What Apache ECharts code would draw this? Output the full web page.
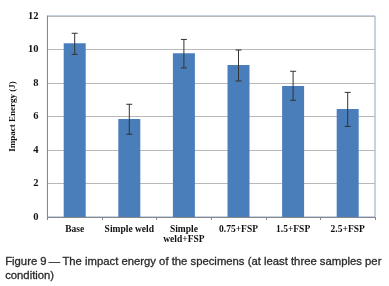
<!DOCTYPE html>
<html>
<head>
<meta charset="utf-8">
<script src="https://cdn.jsdelivr.net/npm/echarts@6/dist/echarts.min.js"></script>
<style>
  html, body { margin: 0; padding: 0; background: #fff; }
  #chart { width: 389px; height: 286px; }
</style>
</head>
<body>
<div id="chart"></div>
<script>
var categories = ['Base', 'Simple weld', 'Simple\nweld+FSP', '0.75+FSP', '1.5+FSP', '2.5+FSP'];
var energy = [10.37, 5.85, 9.77, 9.07, 7.82, 6.45];
var errLow = [9.71, 4.94, 8.9, 8.12, 6.97, 5.41];
var errHigh = [10.97, 6.73, 10.6, 9.97, 8.7, 7.44];

var errData = categories.map(function (c, i) { return [i, errLow[i], errHigh[i]]; });

var myChart = echarts.init(document.getElementById('chart'));

var serif = '"Liberation Serif", "DejaVu Serif", serif';

var option = {
  animation: false,
  grid: {
    left: 39, top: 16, right: 14, bottom: 69,
    show: true, borderColor: '#8ea6c6', borderWidth: 1
  },
  xAxis: {
    type: 'category',
    data: categories,
    axisLine: { lineStyle: { color: '#888' } },
    axisTick: { show: true, length: 3, lineStyle: { color: '#888' } },
    axisLabel: {
      fontFamily: serif, fontWeight: 'bold', fontSize: 9.5, color: '#111',
      margin: 8, lineHeight: 10, interval: 0
    }
  },
  yAxis: {
    type: 'value',
    min: 0, max: 12, interval: 2,
    name: 'Impact Energy (J)',
    nameLocation: 'middle',
    nameGap: 28,
    nameTextStyle: { fontFamily: serif, fontWeight: 'bold', fontSize: 9, color: '#111' },
    axisLine: { show: true, lineStyle: { color: '#888' } },
    axisTick: { show: false },
    splitLine: { lineStyle: { color: '#b8b8b8', width: 1 } },
    axisLabel: { fontFamily: serif, fontWeight: 'bold', fontSize: 10.5, color: '#111', margin: 9 }
  },
  series: [
    {
      type: 'bar',
      data: energy,
      barWidth: 22,
      itemStyle: { color: '#4a7ebb' }
    },
    {
      type: 'custom',
      data: errData,
      z: 10,
      renderItem: function (params, api) {
        var x = api.value(0);
        var lo = api.coord([x, api.value(1)]);
        var hi = api.coord([x, api.value(2)]);
        var hw = 3;
        var st = { stroke: '#333', lineWidth: 1 };
        return {
          type: 'group',
          children: [
            { type: 'line', shape: { x1: lo[0], y1: lo[1], x2: hi[0], y2: hi[1] }, style: st },
            { type: 'line', shape: { x1: lo[0] - hw, y1: lo[1], x2: lo[0] + hw, y2: lo[1] }, style: st },
            { type: 'line', shape: { x1: hi[0] - hw, y1: hi[1], x2: hi[0] + hw, y2: hi[1] }, style: st }
          ]
        };
      }
    }
  ],
  graphic: [
    {
      type: 'text', left: 5, top: 255,
      style: {
        text: 'Figure 9\u2009\u2014\u2009The impact energy of the specimens (at least three samples per\ncondition)',
        fontFamily: '"Liberation Sans", Arial, sans-serif',
        fontSize: 11.3, lineHeight: 14, fill: '#2a2a2a',
        stroke: '#2a2a2a', lineWidth: 0.3
      }
    }
  ]
};

myChart.setOption(option);
</script>
</body>
</html>
